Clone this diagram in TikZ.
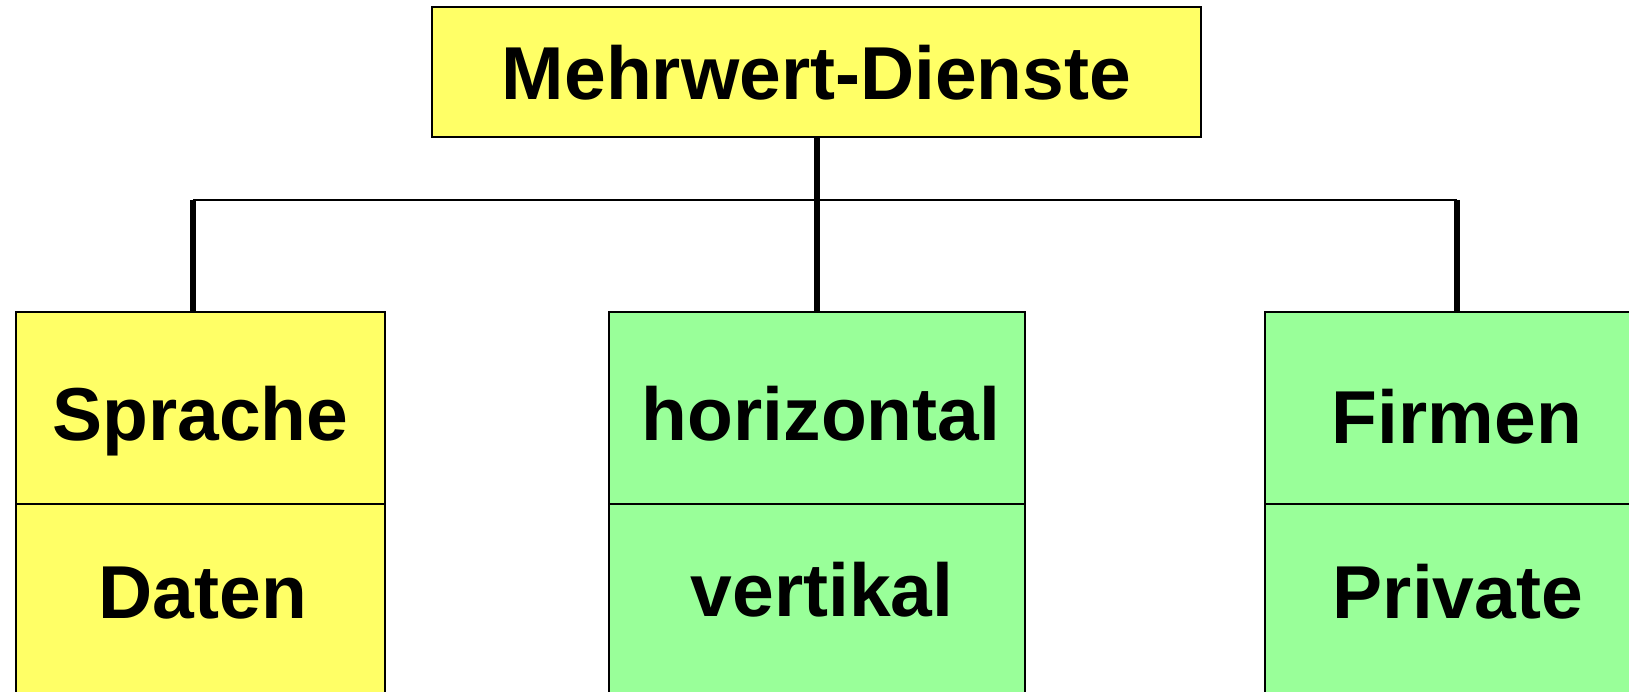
\documentclass[tikz,border=0pt]{standalone}
\usepackage{fontspec}
\setmainfont{Liberation Sans}
\definecolor{boxyellow}{HTML}{FFFF66}
\definecolor{boxgreen}{HTML}{99FF99}
\begin{document}
\begin{tikzpicture}[x=1pt,y=-1pt,
  cell/.style={draw=black, line width=2pt, rectangle, inner sep=0pt, outer sep=0pt, anchor=north west},
  ycell/.style={cell, fill=boxyellow},
  gcell/.style={cell, fill=boxgreen},
  lbl/.style={font=\fontsize{75}{90}\selectfont\bfseries, inner sep=0pt, anchor=base},
  stem/.style={line width=6pt, black},
  bar/.style={line width=2.5pt, black}]
\useasboundingbox (0,0) rectangle (1629,692);
\clip (0,0) rectangle (1629,692);
% top box
\node[ycell, minimum width=769pt, minimum height=130pt] (top) at (432,7) {};
\node[lbl] (ttop) at (816.5,100) {Mehrwert-Dienste};
% left column
\node[ycell, minimum width=369pt, minimum height=192pt] (lu) at (16,312) {};
\node[ycell, minimum width=369pt, minimum height=216pt] (ll) at (16,504) {};
\node[lbl] (tlu) at (200.5,440) {Sprache};
\node[lbl] (tll) at (203,618) {Daten};
% middle column
\node[gcell, minimum width=416pt, minimum height=192pt] (mu) at (609,312) {};
\node[gcell, minimum width=416pt, minimum height=216pt] (ml) at (609,504) {};
\node[lbl] (tmu) at (821,440) {horizontal};
\node[lbl] (tml) at (822,616) {vertikal};
% right column
\node[gcell, minimum width=435pt, minimum height=192pt] (ru) at (1265,312) {};
\node[gcell, minimum width=435pt, minimum height=216pt] (rl) at (1265,504) {};
\node[lbl] (tru) at (1457,443) {Firmen};
\node[lbl] (trl) at (1458,618) {Private};
% connectors
\coordinate (barL) at (193,200);
\coordinate (barR) at (1457,200);
\draw[bar] (barL) -- (barR);
\draw[stem] (top.south -| mu.north) -- (mu.north);
\draw[stem] (barL) -- (barL |- lu.north);
\draw[stem] (barR) -- (barR |- ru.north);
\end{tikzpicture}
\end{document}
